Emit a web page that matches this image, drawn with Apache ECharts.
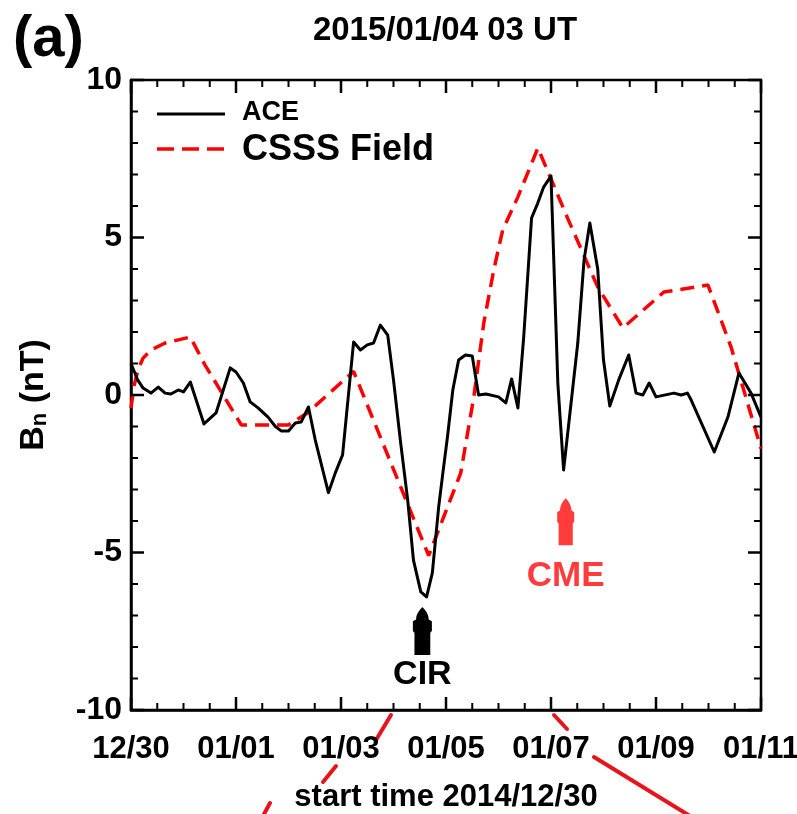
<!DOCTYPE html>
<html>
<head>
<meta charset="utf-8">
<script src="https://cdn.jsdelivr.net/npm/echarts@6/dist/echarts.min.js"></script>
<style>
html,body{margin:0;padding:0;background:#fff;}
#chart{width:797px;height:814px;}
</style>
</head>
<body>
<div id="chart"></div>
<script>
// ---- data (x in days since 2014/12/30 00 UT, y = Bn in nT) ----
const xTickLabels = ['12/30','01/01','01/03','01/05','01/07','01/09','01/11'];
const aceDays = [0.00,0.13,0.23,0.38,0.52,0.65,0.76,0.90,1.00,1.13,1.39,1.62,1.89,2.00,2.14,2.27,2.42,2.61,2.75,2.86,3.00,3.13,3.24,3.38,3.51,3.76,3.89,4.03,4.24,4.37,4.50,4.62,4.75,4.89,5.00,5.13,5.27,5.38,5.52,5.63,5.74,5.86,5.94,6.03,6.13,6.24,6.37,6.50,6.62,6.76,7.00,7.14,7.25,7.37,7.48,7.63,7.75,7.86,8.00,8.13,8.24,8.51,8.63,8.74,8.89,9.00,9.12,9.29,9.48,9.62,9.75,9.87,10.00,10.34,10.48,10.60,10.67,11.11,11.37,11.58,11.81,12.00];
const aceBn   = [1.00,0.47,0.22,0.06,0.25,0.06,0.03,0.16,0.10,0.41,-0.92,-0.57,0.86,0.73,0.38,-0.22,-0.41,-0.70,-1.00,-1.14,-1.14,-0.89,-0.86,-0.38,-1.43,-3.10,-2.48,-1.90,1.68,1.43,1.59,1.65,2.22,1.90,0.48,-1.43,-3.33,-5.24,-6.25,-6.41,-5.65,-3.56,-2.48,-1.30,0.16,1.11,1.27,1.24,0.00,0.03,-0.06,-0.25,0.51,-0.41,1.84,5.62,6.10,6.60,6.95,0.38,-2.38,1.65,4.29,5.46,4.00,1.11,-0.35,0.48,1.27,0.06,0.00,0.38,-0.06,0.06,0.00,0.06,-0.16,-1.81,-0.70,0.70,0.06,-0.70];
const csssDays = [0.00,0.06,0.13,0.23,0.38,0.65,1.13,1.41,1.72,2.10,3.00,3.36,4.24,5.67,6.28,6.53,6.72,6.91,7.08,7.37,7.75,8.32,8.89,9.37,10.15,10.99,11.43,12.00];
const csssBn   = [-0.41,0.30,0.79,1.17,1.43,1.65,1.84,0.95,0.10,-0.95,-0.95,-0.57,0.75,-5.10,-2.48,-0.06,2.29,3.97,5.24,6.29,7.84,5.60,3.43,2.13,3.27,3.49,1.52,-1.70];
const seriesNames = ['ACE','CSSS Field'];
const events = [
  {name:'CIR', day:5.55, bn:-7.49, color:'#000000'},
  {name:'CME', day:8.28, bn:-4.02, color:'#ff3b3b'}
];
// axis ranges and tick steps
const X_MIN = 0, X_MAX = 12, X_MAJOR = 2, X_MINOR = 0.5;
const Y_MIN = -10, Y_MAX = 10, Y_MAJOR = 5, Y_MINOR = 1;

const FONT = '"Liberation Sans", Arial, Helvetica, sans-serif';
const zip = (a,b) => a.map((v,i)=>[v,b[i]]);
const arrowPath = 'path://M10,0 C12.5,4 14,8 14,13 L16,15 L16,25 L15,27 L15,50 L5,50 L5,27 L4,25 L4,15 L6,13 C6,8 7.5,4 10,0 Z';

const GRID = {left:131, right:36, top:80, bottom:104};
const GW = 797 - GRID.left - GRID.right, GH = 814 - GRID.top - GRID.bottom;

// inward frame ticks, drawn as broken line segments through the chart's own scales
const MAJOR_PX = 13, MINOR_PX = 7;
const isMajor = (v, step) => Math.abs(v / step - Math.round(v / step)) < 1e-6;
const majorTicks = [], minorTicks = [];
for (let i = 0; X_MIN + i * X_MINOR <= X_MAX + 1e-9; i++) {
  const v = X_MIN + i * X_MINOR;
  const maj = isMajor(v - X_MIN, X_MAJOR);
  const d = (maj ? MAJOR_PX : MINOR_PX) * (Y_MAX - Y_MIN) / GH;
  const arr = maj ? majorTicks : minorTicks;
  arr.push([v, Y_MIN], [v, Y_MIN + d], [v, null], [v, Y_MAX], [v, Y_MAX - d], [v, null]);
}
for (let i = 0; Y_MIN + i * Y_MINOR <= Y_MAX + 1e-9; i++) {
  const v = Y_MIN + i * Y_MINOR;
  const maj = isMajor(v - Y_MIN, Y_MAJOR);
  const d = (maj ? MAJOR_PX : MINOR_PX) * (X_MAX - X_MIN) / GW;
  const arr = maj ? majorTicks : minorTicks;
  arr.push([X_MIN, v], [X_MIN + d, v], [X_MIN, null], [X_MAX, v], [X_MAX - d, v], [X_MAX, null]);
}

const chart = echarts.init(document.getElementById('chart'), null, {renderer:'canvas'});

const tickSeries = (data, w) => ({
  type:'line', data:data, showSymbol:false, symbol:'none', connectNulls:false,
  silent:true, clip:false, z:6, animation:false,
  lineStyle:{color:'#000', width:w, cap:'butt'}, tooltip:{show:false}
});

const option = {
  animation:false,
  backgroundColor:'#fff',
  grid:Object.assign({containLabel:false, outerBoundsMode:'none',
    show:true, borderColor:'#000', borderWidth:2.5, backgroundColor:'transparent'}, GRID),
  xAxis:{
    type:'value', min:X_MIN, max:X_MAX, interval:X_MAJOR,
    axisLine:{show:true, onZero:false, lineStyle:{color:'#000', width:2.5}},
    axisTick:{show:false}, minorTick:{show:false}, splitLine:{show:false},
    axisLabel:{margin:24, color:'#000', fontFamily:FONT, fontWeight:'bold', fontSize:31,
      formatter:v => xTickLabels[Math.round((v - X_MIN) / X_MAJOR)]},
    name:'start time 2014/12/30', nameLocation:'middle', nameGap:72,
    nameTextStyle:{color:'#000', fontFamily:FONT, fontWeight:'bold', fontSize:31}
  },
  yAxis:{
    type:'value', min:Y_MIN, max:Y_MAX, interval:Y_MAJOR,
    axisLine:{show:true, onZero:false, lineStyle:{color:'#000', width:2.5}},
    axisTick:{show:false}, minorTick:{show:false}, splitLine:{show:false},
    axisLabel:{margin:9, color:'#000', fontFamily:FONT, fontWeight:'bold', fontSize:32},
    name:'{b|B}{s|n}{b| (nT)}', nameLocation:'middle', nameGap:80, nameRotate:90,
    nameTextStyle:{color:'#000', fontFamily:FONT, fontWeight:'bold', fontSize:34,
      rich:{
        b:{fontFamily:FONT, fontWeight:'bold', fontSize:34, color:'#000', verticalAlign:'bottom', lineHeight:40},
        s:{fontFamily:FONT, fontWeight:'bold', fontSize:22, color:'#000', verticalAlign:'bottom', lineHeight:30}
      }}
  },
  series:[
    tickSeries(majorTicks, 2.5),
    tickSeries(minorTicks, 2),
  {
    name:seriesNames[0], type:'line',
    data:zip(aceDays, aceBn), showSymbol:false, symbol:'none',
    lineStyle:{color:'#000', width:3, join:'round'},
    z:3,
    markPoint:{
      symbol:arrowPath, symbolSize:[19,48], silent:true,
      data:[{coord:[events[0].day, events[0].bn], name:events[0].name,
        itemStyle:{color:events[0].color},
        label:{show:true, position:'bottom', distance:3, formatter:events[0].name,
          color:events[0].color, fontFamily:FONT, fontWeight:'bold', fontSize:34}}]
    }
  },{
    name:seriesNames[1], type:'line',
    data:zip(csssDays, csssBn), showSymbol:false, symbol:'none',
    lineStyle:{color:'#ff0000', width:3.5, type:[14,8]},
    z:2,
    markPoint:{
      symbol:arrowPath, symbolSize:[17,47], silent:true,
      data:[{coord:[events[1].day, events[1].bn], name:events[1].name,
        itemStyle:{color:events[1].color},
        label:{show:true, position:'bottom', distance:14, formatter:events[1].name,
          color:events[1].color, fontFamily:FONT, fontWeight:'bold', fontSize:35}}]
    }
  }],
  graphic:[
    {type:'text', left:13, top:11, style:{text:'(a)', fill:'#000', font:'bold 58px '+FONT}},
    {type:'text', style:{x:445, y:31, text:'2015/01/04 03 UT', textAlign:'center', textVerticalAlign:'middle', fill:'#000', font:'bold 33px '+FONT}},
    // legend
    {type:'line', shape:{x1:157, y1:114, x2:225, y2:114}, style:{stroke:'#000', lineWidth:3}},
    {type:'text', style:{x:242, y:113, text:seriesNames[0], textVerticalAlign:'middle', fill:'#000', font:'bold 27px '+FONT}},
    {type:'line', shape:{x1:157, y1:149, x2:225, y2:149}, style:{stroke:'#ff0000', lineWidth:3.5, lineDash:[17,8]}},
    {type:'text', style:{x:242, y:150, text:seriesNames[1], textVerticalAlign:'middle', fill:'#000', font:'bold 36px '+FONT}},
    // stray red annotation strokes from the original figure
    {type:'line', shape:{x1:391, y1:715, x2:376, y2:740}, style:{stroke:'#e8141c', lineWidth:4, lineCap:'round'}},
    {type:'line', shape:{x1:554, y1:715, x2:567, y2:729}, style:{stroke:'#e8141c', lineWidth:4, lineCap:'round'}},
    {type:'line', shape:{x1:594, y1:757, x2:690, y2:816}, style:{stroke:'#e8141c', lineWidth:4, lineCap:'round'}},
    {type:'line', shape:{x1:336, y1:766, x2:323, y2:782}, style:{stroke:'#e8141c', lineWidth:4, lineCap:'round'}},
    {type:'line', shape:{x1:270, y1:803, x2:263, y2:816}, style:{stroke:'#e8141c', lineWidth:4, lineCap:'round'}}
  ]
};
chart.setOption(option);
</script>
</body>
</html>
